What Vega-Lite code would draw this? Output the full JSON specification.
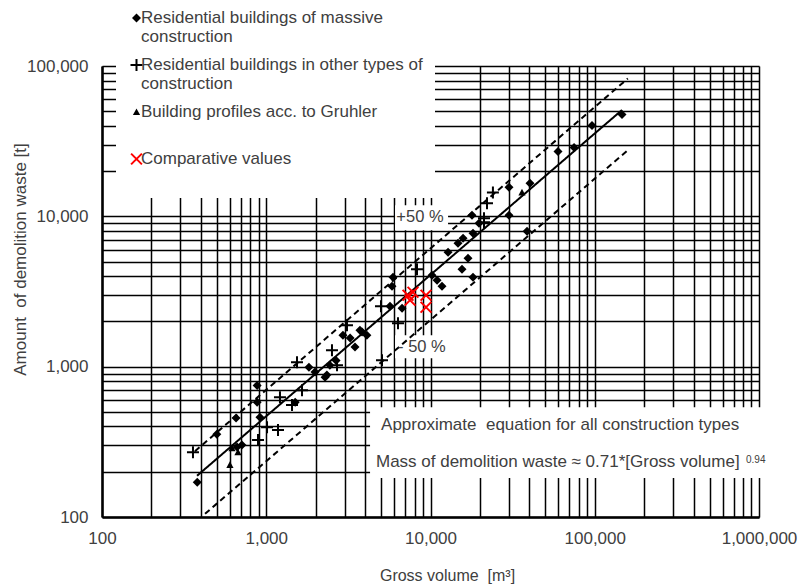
{
  "$schema": "https://vega.github.io/schema/vega-lite/v6.json",
  "width": 657,
  "height": 451,
  "autosize": {"type": "none"},
  "padding": {"left": 102, "top": 66, "right": 39, "bottom": 71},
  "background": "white",
  "config": {"view": {"stroke": null}, "font": "Liberation Sans"},
  "resolve": {"scale": {"shape": "independent", "fill": "independent", "stroke": "independent"}},
  "datasets": {
    "pts": [
      {"s": "M", "x": 380, "y": 170}, {"s": "M", "x": 500, "y": 355}, {"s": "M", "x": 655, "y": 455},
      {"s": "M", "x": 880, "y": 750}, {"s": "M", "x": 880, "y": 580}, {"s": "M", "x": 915, "y": 460},
      {"s": "M", "x": 664, "y": 292}, {"s": "M", "x": 711, "y": 301}, {"s": "M", "x": 1500, "y": 580},
      {"s": "M", "x": 1820, "y": 990}, {"s": "M", "x": 1980, "y": 920}, {"s": "M", "x": 2280, "y": 850},
      {"s": "M", "x": 2440, "y": 1020}, {"s": "M", "x": 2930, "y": 1620}, {"s": "M", "x": 3240, "y": 1550},
      {"s": "M", "x": 3470, "y": 1350}, {"s": "M", "x": 4100, "y": 1620}, {"s": "M", "x": 3830, "y": 1700},
      {"s": "M", "x": 2660, "y": 1100}, {"s": "M", "x": 2340, "y": 880}, {"s": "M", "x": 5670, "y": 2520},
      {"s": "M", "x": 5910, "y": 3930}, {"s": "M", "x": 5830, "y": 3430}, {"s": "M", "x": 6710, "y": 2450},
      {"s": "M", "x": 3720, "y": 1750}, {"s": "M", "x": 10960, "y": 3760}, {"s": "M", "x": 11750, "y": 3430},
      {"s": "M", "x": 10210, "y": 4050}, {"s": "M", "x": 15550, "y": 4440}, {"s": "M", "x": 18150, "y": 3930},
      {"s": "M", "x": 16920, "y": 5260}, {"s": "M", "x": 12790, "y": 5770}, {"s": "M", "x": 14700, "y": 6620},
      {"s": "M", "x": 15780, "y": 7140}, {"s": "M", "x": 18150, "y": 7710}, {"s": "M", "x": 17900, "y": 10160},
      {"s": "M", "x": 19730, "y": 8990}, {"s": "M", "x": 30060, "y": 10160}, {"s": "M", "x": 38700, "y": 7950},
      {"s": "M", "x": 30060, "y": 15590}, {"s": "M", "x": 40360, "y": 16570}, {"s": "M", "x": 59720, "y": 27040},
      {"s": "M", "x": 74800, "y": 28740}, {"s": "M", "x": 96200, "y": 40260}, {"s": "M", "x": 146500, "y": 47620},
      {"s": "O", "x": 358, "y": 270}, {"s": "O", "x": 891, "y": 325}, {"s": "O", "x": 1011, "y": 396},
      {"s": "O", "x": 1179, "y": 379}, {"s": "O", "x": 1212, "y": 627}, {"s": "O", "x": 1435, "y": 555},
      {"s": "O", "x": 1651, "y": 698}, {"s": "O", "x": 1539, "y": 1071}, {"s": "O", "x": 2513, "y": 1287},
      {"s": "O", "x": 2697, "y": 1023}, {"s": "O", "x": 3101, "y": 1887}, {"s": "O", "x": 5067, "y": 1105},
      {"s": "O", "x": 4995, "y": 2523}, {"s": "O", "x": 6340, "y": 1945}, {"s": "O", "x": 8276, "y": 4443},
      {"s": "O", "x": 21170, "y": 9700}, {"s": "O", "x": 21170, "y": 9120}, {"s": "O", "x": 22080, "y": 12200},
      {"s": "O", "x": 23990, "y": 14430},
      {"s": "G", "x": 619, "y": 287}, {"s": "G", "x": 673, "y": 270}, {"s": "G", "x": 601, "y": 222},
      {"s": "G", "x": 36060, "y": 14430},
      {"s": "C", "x": 7295, "y": 2986}, {"s": "C", "x": 7823, "y": 3126}, {"s": "C", "x": 7505, "y": 2767},
      {"s": "C", "x": 9390, "y": 2986}, {"s": "C", "x": 9390, "y": 2485}
    ],
    "fit": [
      {"line": "fit", "x": 379, "y": 188}, {"line": "fit", "x": 146500, "y": 50960},
      {"line": "up", "x": 368, "y": 274}, {"line": "up", "x": 159000, "y": 82570},
      {"line": "lo", "x": 424, "y": 105}, {"line": "lo", "x": 159000, "y": 27525}
    ],
    "one": [{}]
  },
  "layer": [
    {
      "data": {"name": "one"},
      "mark": {"type": "rect", "fill": "white"},
      "encoding": {
        "x": {"datum": 6085, "type": "quantitative", "scale": {"type": "log", "domain": [100, 1000000], "nice": false}},
        "x2": {"datum": 12790},
        "y": {"datum": 8070, "type": "quantitative", "scale": {"type": "log", "domain": [100, 100000], "nice": false}},
        "y2": {"datum": 11830}
      }
    },
    {
      "data": {"name": "one"},
      "mark": {"type": "rect", "fill": "white"},
      "encoding": {
        "x": {"datum": 6085, "type": "quantitative", "scale": {"type": "log", "domain": [100, 1000000], "nice": false}},
        "x2": {"datum": 13150},
        "y": {"datum": 1138, "type": "quantitative", "scale": {"type": "log", "domain": [100, 100000], "nice": false}},
        "y2": {"datum": 1618}
      }
    },
    {
      "data": {"name": "one"},
      "mark": {"type": "rect", "fill": "white"},
      "encoding": {
        "x": {"datum": 4285, "type": "quantitative", "scale": {"type": "log", "domain": [100, 1000000], "nice": false}},
        "x2": {"datum": 1167000},
        "y": {"datum": 182, "type": "quantitative", "scale": {"type": "log", "domain": [100, 100000], "nice": false}},
        "y2": {"datum": 538}
      }
    },
    {
      "data": {"name": "fit"},
      "mark": {"type": "line", "color": "black", "strokeWidth": 2},
      "encoding": {
        "x": {"field": "x", "type": "quantitative", "scale": {"type": "log", "domain": [100, 1000000], "nice": false}},
        "y": {"field": "y", "type": "quantitative", "scale": {"type": "log", "domain": [100, 100000], "nice": false}},
        "detail": {"field": "line"},
        "strokeDash": {"field": "line", "type": "nominal", "scale": {"domain": ["fit", "up", "lo"], "range": [[1, 0], [6, 4], [6, 4]]}, "legend": null}
      }
    },
    {
      "data": {"name": "pts"},
      "mark": {"type": "point", "filled": true, "strokeWidth": 2, "size": 144, "opacity": 1},
      "encoding": {
        "x": {
          "field": "x", "type": "quantitative",
          "scale": {"type": "log", "domain": [100, 1000000], "nice": false},
          "axis": {
            "values": [100, 200, 300, 400, 500, 600, 700, 800, 900, 1000, 2000, 3000, 4000, 5000, 6000, 7000, 8000, 9000, 10000, 20000, 30000, 40000, 50000, 60000, 70000, 80000, 90000, 100000, 200000, 300000, 400000, 500000, 600000, 700000, 800000, 900000, 1000000],
            "labelExpr": "indexof([100, 1000, 10000, 100000, 1000000], datum.value) >= 0 ? format(datum.value, ',') : ''",
            "grid": true, "gridColor": "black", "gridWidth": 1.5, "gridOpacity": 1,
            "ticks": false, "domainColor": "black", "domainWidth": 2.5,
            "labelFontSize": 17, "labelColor": "#404040", "labelPadding": 13, "labelFlush": false, "labelOverlap": false,
            "title": "Gross volume\u00a0 [m³]", "titleFontSize": 16, "titleFontWeight": "normal", "titleColor": "#404040",
            "titleX": 345, "titleY": 58, "titleBaseline": "middle", "titleAlign": "center"
          }
        },
        "y": {
          "field": "y", "type": "quantitative",
          "scale": {"type": "log", "domain": [100, 100000], "nice": false},
          "axis": {
            "values": [100, 200, 300, 400, 500, 600, 700, 800, 900, 1000, 2000, 3000, 4000, 5000, 6000, 7000, 8000, 9000, 10000, 20000, 30000, 40000, 50000, 60000, 70000, 80000, 90000, 100000],
            "labelExpr": "indexof([100, 1000, 10000, 100000], datum.value) >= 0 ? format(datum.value, ',') : ''",
            "grid": true, "gridColor": "black", "gridWidth": 1.5, "gridOpacity": 1,
            "ticks": false, "domainColor": "black", "domainWidth": 2.5,
            "labelFontSize": 17, "labelColor": "#404040", "labelPadding": 14, "labelFlush": false, "labelOverlap": false,
            "title": "Amount\u00a0 of demolition waste [t]", "titleFontSize": 17, "titleFontWeight": "normal", "titleColor": "#404040",
            "titleX": -82, "titleY": 193, "titleBaseline": "middle", "titleAlign": "center"
          }
        },
        "shape": {
          "field": "s", "type": "nominal", "legend": null,
          "scale": {"domain": ["M", "O", "G", "C"], "range": ["M0,-0.75L0.75,0L0,0.75L-0.75,0Z", "M-1,0H1M0,-1V1", "M0,-0.6L0.6,0.5L-0.6,0.5Z", "M-0.9,-0.9L0.9,0.9M-0.9,0.9L0.9,-0.9"]}
        },
        "fill": {"field": "s", "type": "nominal", "legend": null, "scale": {"domain": ["M", "O", "G", "C"], "range": ["black", "black", "black", "red"]}},
        "stroke": {"field": "s", "type": "nominal", "legend": null, "scale": {"domain": ["M", "O", "G", "C"], "range": ["transparent", "black", "transparent", "red"]}}
      }
    },
    {
      "data": {"name": "pts"},
      "transform": [{"filter": "false"}],
      "mark": {"type": "point", "filled": true, "strokeWidth": 2, "size": 144, "opacity": 1},
      "encoding": {
        "x": {"field": "x", "type": "quantitative", "scale": {"type": "log", "domain": [100, 1000000], "nice": false}},
        "y": {"field": "y", "type": "quantitative", "scale": {"type": "log", "domain": [100, 100000], "nice": false}},
        "shape": {
          "field": "s", "type": "nominal",
          "scale": {"domain": ["M", "O", "G", "C"], "range": ["M0,-1.5L0.75,-0.75L0,0L-0.75,-0.75Z", "M-1,-0.75H1M0,-1.75V0.25", "M0,-1.35L0.6,-0.25L-0.6,-0.25Z", "M-0.9,-1.65L0.9,0.15M-0.9,0.15L0.9,-1.65"]},
          "legend": {
            "orient": "none", "legendX": 14, "legendY": -64, "title": null,
            "fillColor": "white", "padding": 12,
            "labelFontSize": 17, "labelColor": "#404040", "labelLimit": 600, "labelOffset": -4,
            "labelBaseline": "alphabetic", "rowPadding": 10,
            "symbolStrokeWidth": 2, "symbolSize": 144,
            "labelExpr": "datum.value == 'M' ? ['Residential buildings of massive', 'construction'] : datum.value == 'O' ? ['Residential buildings in other types of', 'construction'] : datum.value == 'G' ? ['Building profiles acc. to Gruhler', ' '] : ['Comparative values', ' ']"
          }
        },
        "fill": {"field": "s", "type": "nominal", "scale": {"domain": ["M", "O", "G", "C"], "range": ["black", "black", "black", "red"]}},
        "stroke": {"field": "s", "type": "nominal", "scale": {"domain": ["M", "O", "G", "C"], "range": ["transparent", "black", "transparent", "red"]}}
      }
    },
    {
      "data": {"name": "one"},
      "mark": {"type": "text", "text": "+50 %", "fontSize": 16.5, "align": "center", "baseline": "middle", "color": "#404040"},
      "encoding": {
        "x": {"datum": 8630, "type": "quantitative", "scale": {"type": "log", "domain": [100, 1000000], "nice": false}},
        "y": {"datum": 9840, "type": "quantitative", "scale": {"type": "log", "domain": [100, 100000], "nice": false}}
      }
    },
    {
      "data": {"name": "one"},
      "mark": {"type": "text", "text": "- 50 %", "fontSize": 16.5, "align": "center", "baseline": "middle", "color": "#404040"},
      "encoding": {
        "x": {"datum": 8870, "type": "quantitative", "scale": {"type": "log", "domain": [100, 1000000], "nice": false}},
        "y": {"datum": 1349, "type": "quantitative", "scale": {"type": "log", "domain": [100, 100000], "nice": false}}
      }
    },
    {
      "data": {"name": "one"},
      "mark": {"type": "text", "text": "Approximate\u00a0 equation for all construction types", "fontSize": 17, "align": "left", "baseline": "middle", "color": "#404040"},
      "encoding": {
        "x": {"datum": 5000, "type": "quantitative", "scale": {"type": "log", "domain": [100, 1000000], "nice": false}},
        "y": {"datum": 408, "type": "quantitative", "scale": {"type": "log", "domain": [100, 100000], "nice": false}}
      }
    },
    {
      "data": {"name": "one"},
      "mark": {"type": "text", "text": "Mass of demolition waste ≈ 0.71*[Gross volume]", "fontSize": 17, "align": "left", "baseline": "middle", "color": "#404040"},
      "encoding": {
        "x": {"datum": 4656, "type": "quantitative", "scale": {"type": "log", "domain": [100, 1000000], "nice": false}},
        "y": {"datum": 232, "type": "quantitative", "scale": {"type": "log", "domain": [100, 100000], "nice": false}}
      }
    },
    {
      "data": {"name": "one"},
      "mark": {"type": "text", "text": "0.94", "fontSize": 10, "align": "left", "baseline": "middle", "color": "#404040"},
      "encoding": {
        "x": {"datum": 833700, "type": "quantitative", "scale": {"type": "log", "domain": [100, 1000000], "nice": false}},
        "y": {"datum": 240, "type": "quantitative", "scale": {"type": "log", "domain": [100, 100000], "nice": false}}
      }
    }
  ]
}
